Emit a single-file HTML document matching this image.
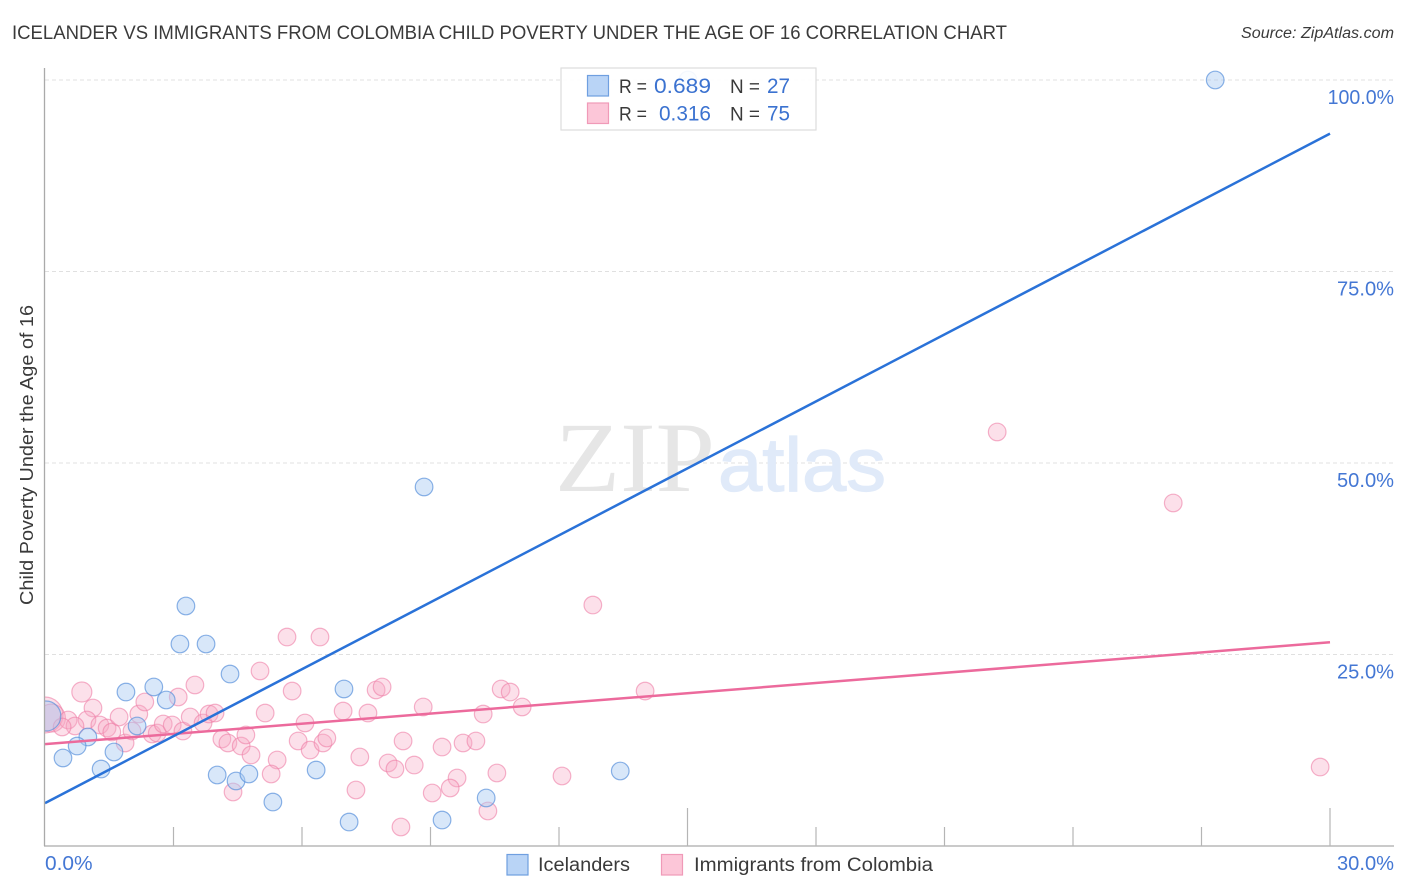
<!DOCTYPE html>
<html lang="en">
<head>
<meta charset="utf-8">
<title>Icelander vs Immigrants from Colombia Child Poverty Correlation Chart</title>
<style>
html,body{margin:0;padding:0;background:#fff;}
svg{display:block;font-family:"Liberation Sans",sans-serif;}
</style>
</head>
<body>
<svg id="chart" width="1406" height="892" viewBox="0 0 1406 892" xmlns="http://www.w3.org/2000/svg">
  <defs>
    <clipPath id="plot-clip"><rect x="45" y="60" width="1349" height="786"/></clipPath>
  </defs>
  <rect x="0" y="0" width="1406" height="892" fill="#ffffff"/>
  <text x="12" y="39" font-size="19" fill="#3a3a3a" textLength="995" lengthAdjust="spacingAndGlyphs">ICELANDER VS IMMIGRANTS FROM COLOMBIA CHILD POVERTY UNDER THE AGE OF 16 CORRELATION CHART</text>
  <text x="1241" y="38" font-size="15.5" font-style="italic" fill="#3a3a3a" textLength="153" lengthAdjust="spacingAndGlyphs">Source: ZipAtlas.com</text>
  <g id="grid"></g>
  <g>
    <text x="555" y="491" font-family="'Liberation Serif',serif" font-size="100" fill="#e6e6e6" textLength="160" lengthAdjust="spacingAndGlyphs">ZIP</text>
    <text x="718" y="491" font-size="76" fill="#e0eaf9" stroke="#e0eaf9" stroke-width="1.2" textLength="168" lengthAdjust="spacingAndGlyphs">atlas</text>
  </g>
  <g id="points" clip-path="url(#plot-clip)"></g>
  <g id="trends"></g>
  <g id="axes">
    <line x1="44.5" y1="68" x2="44.5" y2="846" stroke="#aaaaaa" stroke-width="1.3"/>
    <line x1="44" y1="846" x2="1394" y2="846" stroke="#aaaaaa" stroke-width="1.3"/>
  </g>
  <g id="tick-labels"></g>
  <text transform="translate(33,605) rotate(-90)" x="0" y="0" font-size="18" fill="#3a3a3a" textLength="300" lengthAdjust="spacingAndGlyphs">Child Poverty Under the Age of 16</text>

  <g>
    <rect x="561" y="68" width="255" height="62" fill="#ffffff" fill-opacity="0.9" stroke="#dddddd" stroke-width="1.2"/>
    <rect x="587.5" y="75.5" width="21" height="20.5" fill="#b9d4f6" stroke="#6f9fe0" stroke-width="1.2"/>
    <rect x="587.5" y="103" width="21" height="20.5" fill="#fcc6d8" stroke="#f09ab8" stroke-width="1.2"/>
    <text x="619" y="93" font-size="19" fill="#3a3a3a" textLength="28" lengthAdjust="spacingAndGlyphs">R =</text>
    <text x="654" y="93" font-size="21" fill="#3b72d0" textLength="57" lengthAdjust="spacingAndGlyphs">0.689</text>
    <text x="730" y="93" font-size="19" fill="#3a3a3a" textLength="30" lengthAdjust="spacingAndGlyphs">N =</text>
    <text x="767" y="93" font-size="21" fill="#3b72d0" textLength="23" lengthAdjust="spacingAndGlyphs">27</text>
    <text x="619" y="120.500" font-size="19" fill="#3a3a3a" textLength="28" lengthAdjust="spacingAndGlyphs">R =</text>
    <text x="659" y="120.500" font-size="21" fill="#3b72d0" textLength="52" lengthAdjust="spacingAndGlyphs">0.316</text>
    <text x="730" y="120.500" font-size="19" fill="#3a3a3a" textLength="30" lengthAdjust="spacingAndGlyphs">N =</text>
    <text x="767" y="120.500" font-size="21" fill="#3b72d0" textLength="23" lengthAdjust="spacingAndGlyphs">75</text>
  </g>

  <g>
    <rect x="507" y="854.500" width="21" height="20.500" fill="#b9d4f6" stroke="#6f9fe0" stroke-width="1.2"/>
    <text x="538" y="871" font-size="19" fill="#3a3a3a" textLength="92" lengthAdjust="spacingAndGlyphs">Icelanders</text>
    <rect x="661.500" y="854.500" width="21" height="20.500" fill="#fcc6d8" stroke="#f09ab8" stroke-width="1.2"/>
    <text x="694" y="871" font-size="19" fill="#3a3a3a" textLength="239" lengthAdjust="spacingAndGlyphs">Immigrants from Colombia</text>
  </g>
</svg>
<script>
const blueX = [27.32,15.01,8.85,3.29,3.15,3.76,4.32,6.98,2.54,1.89,2.83,0.02,2.15,1.00,0.75,0.42,1.61,1.31,4.02,4.46,4.76,6.33,13.43,5.32,10.30,7.10,9.27];
const blueY = [100,100,46.87,31.33,26.37,26.37,22.45,20.50,20.76,20.10,19.06,16.97,15.67,14.23,13.05,11.49,12.27,10.05,9.27,8.49,9.40,9.92,9.79,5.74,6.27,3.13,3.39];
const pinkX = [0.0,0.15,0.86,1.12,0.98,0.54,0.70,0.40,1.28,1.45,1.56,1.73,1.87,2.03,2.19,2.33,2.50,2.62,2.76,2.97,3.11,3.22,3.39,3.50,3.69,3.83,3.97,4.13,4.27,4.58,4.69,4.81,5.02,5.14,5.42,5.28,4.39,5.77,6.07,5.91,6.19,6.49,6.58,6.96,5.65,6.42,7.73,7.87,7.54,8.83,8.36,7.35,8.01,8.17,8.62,7.26,9.27,9.76,10.06,9.62,9.46,9.04,8.31,10.34,10.55,10.23,10.65,10.86,11.14,12.07,14.01,12.79,22.23,26.34,29.77];
const pinkY = [17.1,16.7,20.10,18.02,16.45,16.45,15.67,15.54,15.80,15.40,14.88,16.84,13.45,15.01,17.23,18.80,14.62,14.75,15.93,15.80,19.45,15.01,16.84,21.02,16.06,17.23,17.36,13.97,13.45,13.05,14.49,11.88,22.85,17.36,11.23,9.40,7.05,20.23,16.06,13.71,12.53,13.45,14.10,17.62,27.28,27.28,20.37,20.76,17.36,18.15,13.71,11.62,10.84,10.05,10.57,7.31,12.92,13.45,13.71,8.88,7.57,6.92,2.48,4.57,9.53,17.23,20.50,20.10,18.15,9.14,20.23,31.46,54.05,44.78,10.31];
const blueTrend = [5.6,93.0];
const pinkTrend = [13.3,26.6];
const trendDomain = [0,30];
const yTickValues = [100,75,50,25];
const yTickLabels = ["100.0%","75.0%","50.0%","25.0%"];
const xTickValues = [3,6,9,12,15,18,21,24,27,30];
const xTickMajor = [15,30];
const xEndValues = [0,30];
const xEndLabels = ["0.0%","30.0%"];

const SVGNS = "http://www.w3.org/2000/svg";
function xScale(v){ return 45 + v / 30 * 1285; }
function yScale(v){ return 846 - v * 7.66; }
function labelWidth(s){ return s.length * 9.4 + 0.5; }
function make(tag, attrs, parent){
  const el = document.createElementNS(SVGNS, tag);
  for (const k in attrs) el.setAttribute(k, attrs[k]);
  parent.appendChild(el);
  return el;
}
const grid = document.getElementById("grid");
const points = document.getElementById("points");
const trends = document.getElementById("trends");
const axes = document.getElementById("axes");
const labels = document.getElementById("tick-labels");

yTickValues.forEach(function(v, i){
  const line = make("line", {x1:45, x2:1394, y1:yScale(v), y2:yScale(v), stroke:"#e0e0e0", "stroke-width":1, "stroke-dasharray":"4 3"}, grid);
  
  
  const w = labelWidth(yTickLabels[i]) + 9.5;
  const t = make("text", {x:1394 - w, y:yScale(v) + 24, "font-size":20, fill:"#4477d4", textLength:w, lengthAdjust:"spacingAndGlyphs"}, labels);
  
  
  t.textContent = yTickLabels[i];
});

xTickValues.forEach(function(v){
  const top = xTickMajor.indexOf(v) >= 0 ? 808 : 827;
  const tick = make("line", {x1:xScale(v), x2:xScale(v), y1:top, y2:846, stroke:"#b5b5b5", "stroke-width":1.2}, axes);
  
  
});

xEndValues.forEach(function(v, i){
  const w = labelWidth(xEndLabels[i]) + 9.5;
  const t = make("text", {x: i === 0 ? 45 : 1394 - w, y:870, "font-size":20, fill:"#4477d4", textLength:w, lengthAdjust:"spacingAndGlyphs"}, labels);
  
  
  t.textContent = xEndLabels[i];
});

function radiusPink(i){ if (i === 0) return 18; if (i === 1) return 14; if (i === 2) return 10; return 8.8; }
function radiusBlue(i){ return i === 11 ? 15 : 8.8; }

pinkX.forEach(function(v, i){
  const c = make("circle", {cx:xScale(v), cy:yScale(pinkY[i]), r:radiusPink(i), fill:"#f8a9c5", "fill-opacity":0.36, stroke:"#ef7fa6", "stroke-opacity":0.6, "stroke-width":1.2}, points);
  
  
});
blueX.forEach(function(v, i){
  const c = make("circle", {cx:xScale(v), cy:yScale(blueY[i]), r:radiusBlue(i), fill:"#a9caf2", "fill-opacity":0.45, stroke:"#5a92dc", "stroke-opacity":0.7, "stroke-width":1.2}, points);
  
  
});

const pinkLine = make("line", {x1:xScale(trendDomain[0]), y1:yScale(pinkTrend[0]), x2:xScale(trendDomain[1]), y2:yScale(pinkTrend[1]), stroke:"#ec6a9c", "stroke-width":2.5}, trends);


const blueLine = make("line", {x1:xScale(trendDomain[0]), y1:yScale(blueTrend[0]), x2:xScale(trendDomain[1]), y2:yScale(blueTrend[1]), stroke:"#2a72d8", "stroke-width":2.5}, trends);


</script>
</body>
</html>
